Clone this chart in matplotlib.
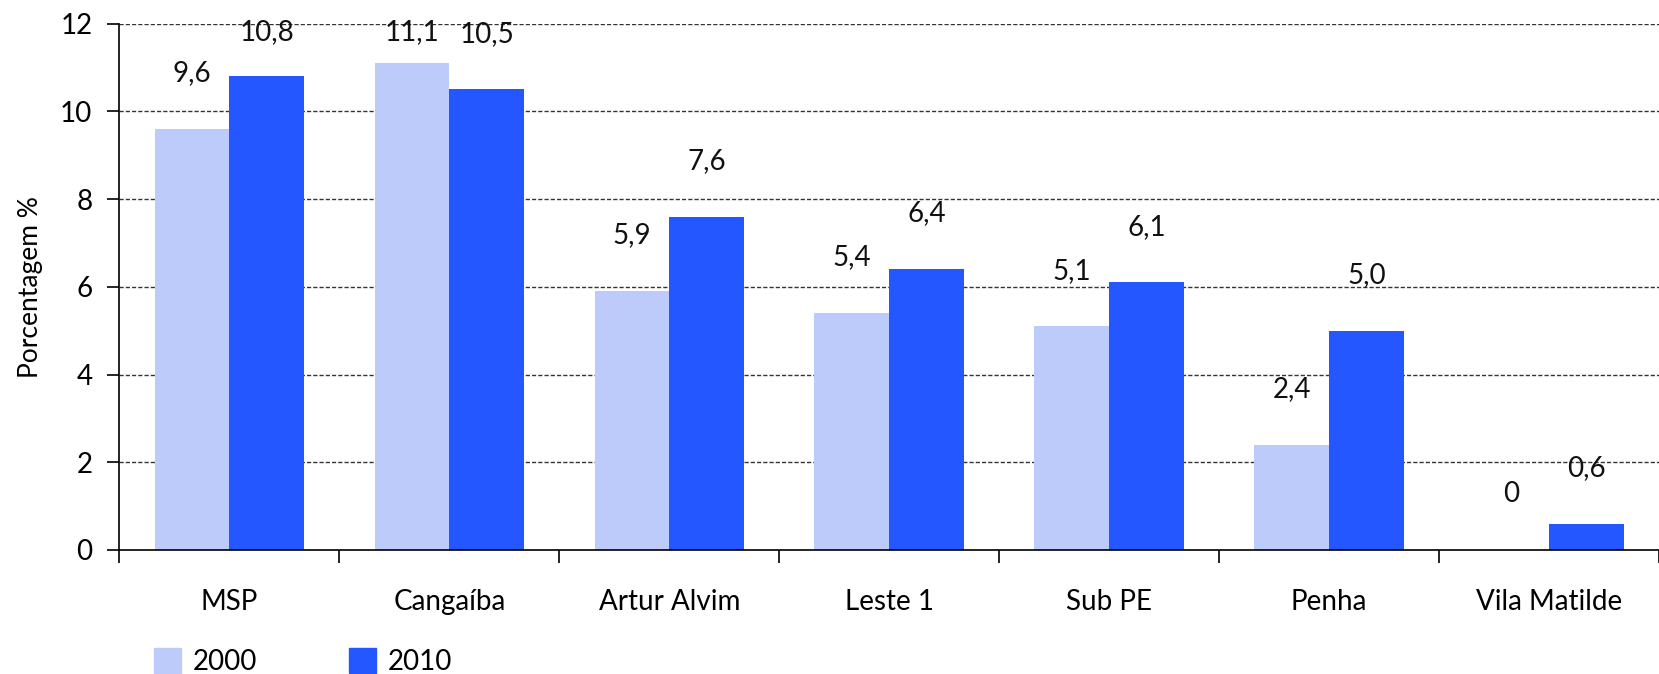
import matplotlib.pyplot as plt
import matplotlib.patches as mpatches
import numpy as np

plt.rcParams['font.family'] = ['Lato', 'DejaVu Sans']

labels = ["MSP", "Cangaíba", "Artur Alvim", "Leste 1", "Sub PE", "Penha", "Vila Matilde"]
anos = ["2000", "2010"]
valores_2000 = [9.6, 11.1, 5.9, 5.4, 5.1, 2.4, 0]
valores_2010 = [10.8, 10.5, 7.6, 6.4, 6.1, 5.0, 0.6]

cor_2000 = "#bdcbfa"
cor_2010 = "#2457ff"

fig = plt.figure(figsize=(16.59, 6.74), dpi=100)
ax = fig.add_axes([0.072, 0.184, 0.928, 0.781])

x = np.arange(len(labels))
w = 0.34
ax.bar(x - w / 2, valores_2000, w, color=cor_2000, zorder=2)
ax.bar(x + w / 2, valores_2010, w, color=cor_2010, zorder=2)

def rotulo(v):
    if v == 0:
        return "0"
    return ("%.1f" % v).replace(".", ",")

# numeros acima das barras (limitados ao topo do grafico)
for i in range(len(labels)):
    for v, dx in [(valores_2000[i], -w / 2), (valores_2010[i], w / 2)]:
        y = min(v + 1.27, 11.8)
        ax.text(x[i] + dx, y, rotulo(v), ha='center', va='center', fontsize=20, color='#111111', zorder=3)

ax.set_ylim(0, 12)
ax.set_xlim(-0.5, 6.48)
ax.set_yticks(range(0, 13, 2))
ax.tick_params(axis='y', labelsize=20, length=8.5, width=1.2, direction='out', pad=11)

# ticks nas divisas, nomes no meio
ax.set_xticks(np.arange(-0.5, 7, 1))
ax.set_xticklabels([])
ax.set_xticks(x, minor=True)
ax.set_xticklabels(labels, minor=True, fontsize=20)
ax.tick_params(axis='x', which='major', length=9, width=1.2, direction='out')
ax.tick_params(axis='x', which='minor', length=0, pad=28)

for yy in range(2, 13, 2):
    ax.axhline(yy, color='#333333', linestyle=(0, (3, 1.5)), linewidth=1.0, zorder=1)

ax.spines['top'].set_visible(False)
ax.spines['right'].set_visible(False)
ax.spines['left'].set_linewidth(1.2)
ax.spines['bottom'].set_linewidth(1.2)
ax.set_ylabel("Porcentagem %", fontsize=19, labelpad=12)

handles = [mpatches.Patch(color=cor_2000, label=anos[0]),
           mpatches.Patch(color=cor_2010, label=anos[1])]
fig.legend(handles=handles, loc='upper left', bbox_to_anchor=(0.093, 0.038), ncol=2,
           frameon=False, fontsize=20, handlelength=0.95, handleheight=1.0,
           handletextpad=0.45, columnspacing=3.3, borderpad=0, borderaxespad=0)

fig.savefig("out.png", dpi=100)
